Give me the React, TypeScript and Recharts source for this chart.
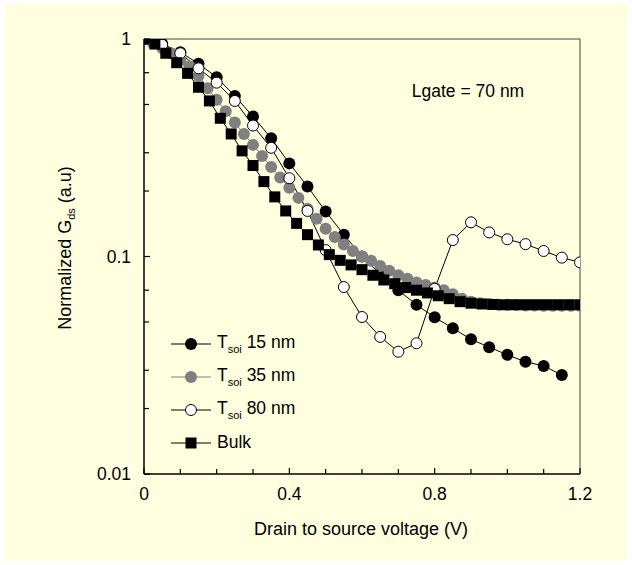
import React from 'react'
import { LineChart, Line, XAxis, YAxis, Legend } from 'recharts'

const BG = '#FFFFE0'
const FONT = '"Liberation Sans", Arial, sans-serif'

// axis ticks
const xTicks = [0, 0.1, 0.2, 0.3, 0.4, 0.5, 0.6, 0.7, 0.8, 0.9, 1.0, 1.1, 1.2]
const xMajor = [0, 0.4, 0.8, 1.2]
const yTicks = [0.01, 0.02, 0.03, 0.04, 0.05, 0.06, 0.07, 0.08, 0.1, 0.2, 0.3, 0.4, 0.5, 0.6, 0.7, 0.8, 1]
const yMajor = [0.01, 0.1, 1]

// T_soi 15 nm
const v15 = [0, 0.05, 0.1, 0.15, 0.2, 0.25, 0.3, 0.35, 0.4, 0.45, 0.5, 0.55, 0.6, 0.65, 0.7, 0.75, 0.8, 0.85, 0.9, 0.95, 1.0, 1.05, 1.1, 1.15]
const g15 = [1.0, 0.95, 0.87, 0.77, 0.667, 0.547, 0.44, 0.35, 0.268, 0.21, 0.161, 0.126, 0.1, 0.083, 0.07, 0.06, 0.0525, 0.0468, 0.0416, 0.0383, 0.0353, 0.0328, 0.0314, 0.0285]

// T_soi 35 nm
const v35 = [0, 0.025, 0.05, 0.075, 0.1, 0.125, 0.15, 0.175, 0.2, 0.225, 0.25, 0.275, 0.3, 0.325, 0.35, 0.375, 0.4, 0.425, 0.45, 0.475, 0.5, 0.525, 0.55, 0.575, 0.6, 0.625, 0.65, 0.675, 0.7, 0.725, 0.75, 0.775, 0.8, 0.825, 0.85, 0.875, 0.9, 0.925, 0.95, 0.975, 1.0, 1.025, 1.05, 1.075, 1.1, 1.125, 1.15, 1.175, 1.2]
const g35 = [1.0, 0.955, 0.91, 0.86, 0.8, 0.75, 0.676, 0.594, 0.525, 0.466, 0.413, 0.366, 0.326, 0.29, 0.258, 0.231, 0.207, 0.186, 0.166, 0.149, 0.134, 0.123, 0.1135, 0.106, 0.1, 0.0955, 0.0905, 0.086, 0.082, 0.079, 0.076, 0.074, 0.072, 0.07, 0.067, 0.064, 0.062, 0.061, 0.0605, 0.06, 0.06, 0.0598, 0.0596, 0.0595, 0.0594, 0.0594, 0.0594, 0.0594, 0.0594]

// T_soi 80 nm
const v80 = [0, 0.05, 0.1, 0.15, 0.2, 0.25, 0.3, 0.35, 0.4, 0.45, 0.5, 0.55, 0.6, 0.65, 0.7, 0.75, 0.8, 0.85, 0.9, 0.95, 1.0, 1.05, 1.1, 1.15, 1.2]
const g80 = [1.0, 0.94, 0.86, 0.733, 0.63, 0.519, 0.4, 0.316, 0.229, 0.162, 0.107, 0.0724, 0.0527, 0.0427, 0.0365, 0.0399, 0.071, 0.119, 0.1436, 0.129, 0.12, 0.114, 0.106, 0.0988, 0.094]

// Bulk
const vBulk = [0, 0.03, 0.06, 0.09, 0.12, 0.15, 0.18, 0.21, 0.24, 0.27, 0.3, 0.33, 0.36, 0.39, 0.42, 0.45, 0.48, 0.51, 0.54, 0.57, 0.6, 0.63, 0.66, 0.69, 0.72, 0.75, 0.78, 0.81, 0.84, 0.87, 0.9, 0.93, 0.96, 0.99, 1.02, 1.05, 1.08, 1.11, 1.14, 1.17, 1.2]
const gBulk = [1.0, 0.948, 0.86, 0.778, 0.695, 0.6, 0.519, 0.432, 0.366, 0.306, 0.262, 0.221, 0.188, 0.162, 0.142, 0.126, 0.113, 0.102, 0.096, 0.0915, 0.087, 0.082, 0.078, 0.075, 0.072, 0.07, 0.068, 0.066, 0.064, 0.062, 0.061, 0.0605, 0.0602, 0.06, 0.06, 0.06, 0.06, 0.06, 0.06, 0.06, 0.06]

const legendNames = ['15 nm', '35 nm', '80 nm', 'Bulk']

const toPts = (xs: number[], ys: number[]) => xs.map((x, i) => ({ x, y: ys[i] }))

const t15 = toPts(v15, g15)
const t35 = toPts(v35, g35)
const t80 = toPts(v80, g80)
const bulk = toPts(vBulk, gBulk)

const XTick = (p: any) => {
  const v = p.payload.value
  const major = xMajor.includes(v)
  return (
    <g>
      <line x1={p.x} x2={p.x} y1={p.y} y2={p.y - (major ? 6 : 5)} stroke="#000" strokeWidth={1.2} />
      {major && (
        <text x={p.x} y={p.y + 26} textAnchor="middle" fontSize={17.5} fontFamily={FONT} fill="#000">
          {v}
        </text>
      )}
    </g>
  )
}

const YTick = (p: any) => {
  const v = p.payload.value
  const major = yMajor.includes(v)
  return (
    <g>
      <line x1={p.x} x2={p.x + (major ? 6 : 5)} y1={p.y} y2={p.y} stroke="#000" strokeWidth={1.2} />
      {major && (
        <text x={p.x - 13} y={p.y + 6} textAnchor="end" fontSize={17.5} fontFamily={FONT} fill="#000">
          {v}
        </text>
      )}
    </g>
  )
}

const SquareDot = (p: any) => (
  <rect key={`sq${p.index}`} x={p.cx - 5.5} y={p.cy - 5.5} width={11} height={11} fill="#000" />
)

function marker(i: number) {
  if (i === 0) return <circle cx={20} cy={8} r={6} fill="#000" />
  if (i === 1) return <circle cx={20} cy={8} r={6} fill="#808080" />
  if (i === 2) return <circle cx={20} cy={8} r={5.5} fill="#fff" stroke="#000" />
  return <rect x={14.5} y={2.5} width={11} height={11} fill="#000" />
}

const LegendBox = () => (
  <div style={{ fontFamily: FONT, fontSize: 17.5, color: '#000' }}>
    {legendNames.map((n, i) => (
      <div key={n} style={{ display: 'flex', alignItems: 'center', height: 33 }}>
        <svg width={40} height={16}>
          <line x1={0} x2={40} y1={8} y2={8} stroke={i === 1 ? '#808080' : '#000'} />
          {marker(i)}
        </svg>
        <span style={{ marginLeft: 6 }}>
          {i < 3 ? (
            <>T<sub style={{ fontSize: 11 }}>soi</sub> {n}</>
          ) : n}
        </span>
      </div>
    ))}
  </div>
)

export default function App() {
  return (
    <div style={{ position: 'absolute', left: 0, top: 0, width: 632, height: 565, background: '#fff' }}>
      <div style={{ position: 'absolute', left: 5, top: 4, width: 622, height: 557, background: BG }} />
      <div style={{ position: 'absolute', left: 0, top: 0 }}>
        <LineChart width={632} height={565} margin={{ top: 38, right: 51, bottom: 90, left: 0 }}>
          <XAxis
            dataKey="x"
            type="number"
            domain={[0, 1.2]}
            ticks={xTicks}
            tick={<XTick />}
            tickSize={0}
            tickMargin={0}
            height={1}
            axisLine={{ stroke: '#000', strokeWidth: 1.5 }}
            allowDataOverflow
          />
          <XAxis
            xAxisId="top"
            orientation="top"
            type="number"
            domain={[0, 1.2]}
            tick={false}
            tickLine={false}
            height={1}
            axisLine={{ stroke: '#444', strokeWidth: 1 }}
          />
          <YAxis
            type="number"
            scale="log"
            domain={[0.01, 1]}
            ticks={yTicks}
            tick={<YTick />}
            tickSize={0}
            tickMargin={0}
            width={144}
            axisLine={{ stroke: '#000', strokeWidth: 1.5 }}
            allowDataOverflow
          />
          <YAxis
            yAxisId="right"
            orientation="right"
            type="number"
            domain={[0, 1]}
            tick={false}
            tickLine={false}
            width={1}
            axisLine={{ stroke: '#444', strokeWidth: 1 }}
          />
          <Legend
            layout="vertical"
            align="center"
            verticalAlign="middle"
            content={<LegendBox />}
            wrapperStyle={{ left: 171, top: 327, width: 'auto' }}
          />
          <Line
            data={t15}
            dataKey="y"
            type="linear"
            stroke="#000"
            strokeWidth={1}
            dot={{ r: 6, fill: '#000', stroke: '#000', strokeWidth: 0 }}
            isAnimationActive={false}
          />
          <Line
            data={t35}
            dataKey="y"
            type="linear"
            stroke="#808080"
            strokeWidth={1}
            dot={{ r: 6, fill: '#808080', stroke: '#808080', strokeWidth: 0 }}
            isAnimationActive={false}
          />
          <Line
            data={t80}
            dataKey="y"
            type="linear"
            stroke="#000"
            strokeWidth={1}
            dot={{ r: 5.5, fill: '#fff', stroke: '#000', strokeWidth: 1 }}
            isAnimationActive={false}
          />
          <Line
            data={bulk}
            dataKey="y"
            type="linear"
            stroke="#000"
            strokeWidth={1}
            dot={<SquareDot />}
            isAnimationActive={false}
          />
        </LineChart>
      </div>
      <svg width={632} height={565} style={{ position: 'absolute', left: 0, top: 0, pointerEvents: 'none' }}>
        <text x={361} y={535} textAnchor="middle" fontSize={18} fontFamily={FONT} fill="#000">
          Drain to source voltage (V)
        </text>
        <text transform="translate(71,248) rotate(-90)" textAnchor="middle" fontSize={18} fontFamily={FONT} fill="#000">
          Normalized G<tspan fontSize={11} dy={4}>ds</tspan><tspan dy={-4}> (a.u)</tspan>
        </text>
        <text x={468} y={97} textAnchor="middle" fontSize={17.5} fontFamily={FONT} fill="#000">
          Lgate = 70 nm
        </text>
      </svg>
    </div>
  )
}
